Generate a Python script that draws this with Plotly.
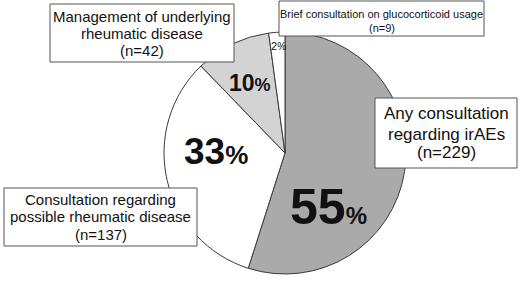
import plotly.graph_objects as go

# ---- data ----
categories = [
    "Any consultation regarding irAEs",
    "Consultation regarding possible rheumatic disease",
    "Management of underlying rheumatic disease",
    "Brief consultation on glucocorticoid usage",
]
counts = [229, 137, 42, 9]
label_lines = [
    ["Any consultation", "regarding irAEs"],
    ["Consultation regarding", "possible rheumatic disease"],
    ["Management of underlying", "rheumatic disease"],
    ["Brief consultation on glucocorticoid usage"],
]
slice_colors = ["#aaaaaa", "#ffffff", "#d3d3d3", "#ffffff"]

W, H = 520, 284


def px(x):
    return x / W


def py(y):
    return 1 - y / H


total = sum(counts)
pcts = [round(c / total * 100) for c in counts]

fig = go.Figure()
cx, cy, r = 285, 153, 121
fig.add_trace(go.Pie(
    values=counts,
    labels=categories,
    sort=False,
    direction="clockwise",
    rotation=0,
    marker=dict(colors=slice_colors, line=dict(color="#3a3a3a", width=1)),
    textinfo="none",
    hoverinfo="label+value+percent",
    showlegend=False,
    domain=dict(x=[px(cx - r), px(cx + r)], y=[py(cy + r), py(cy - r)]),
))

annotations = []
shapes = []

# percentage labels (centre x, centre y, digit size, % size, bold)
pct_style = [
    (328, 207, 50, 24, True),
    (216, 151, 37, 26, True),
    (250, 83, 23, 18, True),
    (278, 46, 11, 10, False),
]
num_font = "Liberation Sans Narrow, Arial Narrow, Liberation Sans, Arial"
for p, (x, y, s1, s2, b) in zip(pcts, pct_style):
    num = f"<b>{p}</b>" if b else f"{p}"
    pc = f"<b>%</b>" if b else "%"
    annotations.append(dict(
        x=px(x), y=py(y), xref="paper", yref="paper",
        text=f"{num}<span style='font-size:{s2}px'>{pc}</span>",
        showarrow=False, xanchor="center", yanchor="middle",
        font=dict(family=num_font, size=s1, color="#111111"),
    ))

# label boxes: (x0, y0, x1, y1, font size, line centre ys)
box_style = [
    (375, 98, 517, 168, 17, [113, 134, 153]),
    (4, 188, 197, 246, 15, [199, 216.5, 234]),
    (50, 4, 234, 62, 15, [16, 33.5, 51]),
    (279, 1, 484, 36, 11, [14.5, 28]),
]
for lines, n, (x0, y0, x1, y1, fs, ys) in zip(label_lines, counts, box_style):
    shapes.append(dict(
        type="rect", xref="paper", yref="paper",
        x0=px(x0), x1=px(x1), y0=py(y1), y1=py(y0),
        fillcolor="white", line=dict(color="#555555", width=1), layer="above",
    ))
    all_lines = lines + [f"(n={n})"]
    for t, yy in zip(all_lines, ys):
        annotations.append(dict(
            x=px((x0 + x1) / 2), y=py(yy), xref="paper", yref="paper",
            text=t, showarrow=False, xanchor="center", yanchor="middle",
            font=dict(family="Liberation Sans, Arial, sans-serif", size=fs, color="#111111"),
        ))

fig.update_layout(
    width=W, height=H,
    margin=dict(l=0, r=0, t=0, b=0),
    paper_bgcolor="white",
    plot_bgcolor="white",
    annotations=annotations,
    shapes=shapes,
)

fig.write_html(
    "out.html",
    config={"displayModeBar": False},
    post_script="document.body.style.margin='0';",
)
